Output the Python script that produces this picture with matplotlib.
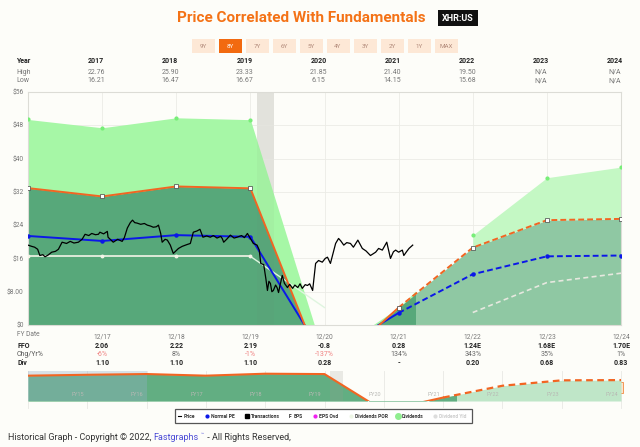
import numpy as np
import matplotlib
matplotlib.use('Agg')
import matplotlib.pyplot as plt
from matplotlib.patches import Rectangle

plt.rcParams['font.family'] = ['Roboto', 'DejaVu Sans']

#########################################################################
# data
#########################################################################
buttons = ['9Y', '8Y', '7Y', '6Y', '5Y', '4Y', '3Y', '2Y', '1Y', 'MAX']
table_years = ['2017', '2018', '2019', '2020', '2021', '2022', '2023', '2024']
table_high = ['22.76', '25.90', '23.33', '21.85', '21.40', '19.50', 'N/A', 'N/A']
table_low = ['16.21', '16.47', '16.67', '6.15', '14.15', '15.68', 'N/A', 'N/A']

fy_dates = ['12/17', '12/18', '12/19', '12/20', '12/21', '12/22', '12/23', '12/24']
ffo_text = ['2.06', '2.22', '2.19', '-0.8', '0.28', '1.24E', '1.68E', '1.70E']
chg_text = ['-6%', '8%', '-1%', '-137%', '134%', '343%', '35%', '1%']
div_text = ['1.10', '1.10', '1.10', '0.28', '-', '0.20', '0.68', '0.83']

# yearly points, t = years after 12/16
fund_t = [0, 1, 2, 3, 4, 5, 6, 7, 8]
eps_line = [32.9, 30.9, 33.3, 32.85, -12.0, 4.2, 18.6, 25.2, 25.5]
normal_pe = [21.4, 20.2, 21.6, 21.2, -7.8, 2.9, 12.2, 16.5, 16.7]
div_top = [49.4, 47.4, 49.8, 49.35, -7.8, 4.2, 21.6, 35.4, 37.95]
yld_hist_t = [0, 1, 2, 3, 4]
yld_hist = [16.5, 16.5, 16.5, 16.5, 4.2]
yld_fc_t = [6, 7, 8]
yld_fc = [3.0, 10.2, 12.45]
t_now = 5.22
recession = (3.09, 3.32)

price_t = [0.00, 0.05, 0.09, 0.13, 0.16, 0.20, 0.23, 0.27, 0.32, 0.37, 0.41, 0.46, 0.52, 0.57, 0.62,
           0.68, 0.73, 0.77, 0.82, 0.86, 0.91, 0.95, 0.97, 1.02, 1.07, 1.08, 1.12, 1.15, 1.21, 1.27,
           1.30, 1.34, 1.38, 1.41, 1.44, 1.47, 1.52, 1.57, 1.61, 1.65, 1.69, 1.73, 1.76, 1.79, 1.81,
           1.85, 1.88, 1.92, 1.96, 2.00, 2.03, 2.08, 2.14, 2.19, 2.21, 2.23, 2.28, 2.32, 2.36, 2.41,
           2.46, 2.50, 2.55, 2.60, 2.62, 2.64, 2.68, 2.73, 2.78, 2.82, 2.88, 2.92, 2.96, 3.00, 3.04,
           3.09, 3.12, 3.14, 3.18, 3.21, 3.23, 3.25, 3.27, 3.29, 3.31, 3.34, 3.36, 3.38, 3.40, 3.43,
           3.46, 3.50, 3.53, 3.57, 3.60, 3.64, 3.67, 3.70, 3.74, 3.77, 3.80, 3.84, 3.86, 3.88, 3.92,
           3.97, 4.01, 4.04, 4.08, 4.12, 4.15, 4.19, 4.22, 4.26, 4.30, 4.35, 4.39, 4.45, 4.51, 4.56,
           4.62, 4.69, 4.73, 4.78, 4.84, 4.89, 4.93, 4.96, 5.00, 5.05, 5.07, 5.11, 5.14, 5.19]
price_v = [19.2, 18.9, 18.7, 18.2, 16.7, 16.9, 16.4, 16.8, 17.5, 17.7, 18.2, 19.9, 19.6, 20.1, 19.7,
           19.9, 20.6, 21.8, 21.5, 22.0, 21.7, 21.8, 22.3, 21.9, 22.5, 21.1, 20.4, 19.9, 20.6, 20.1,
           21.0, 23.3, 24.6, 25.2, 24.6, 24.5, 24.2, 24.4, 24.0, 23.8, 23.5, 23.6, 24.0, 22.0, 19.9,
           20.6, 20.4, 19.2, 17.2, 17.9, 18.4, 18.9, 19.3, 19.6, 21.0, 22.3, 22.6, 23.0, 21.1, 21.4,
           21.1, 21.5, 20.9, 21.3, 20.8, 19.9, 20.6, 21.6, 20.9, 21.1, 21.5, 21.0, 22.0, 20.8, 19.6,
           19.2, 18.0, 14.8, 14.5, 11.0, 8.3, 10.5, 10.0, 8.0, 8.3, 9.6, 9.0, 7.8, 9.5, 11.9,
           10.0, 9.0, 9.8, 8.8, 9.6, 9.0, 9.9, 8.8, 9.7, 9.5, 9.9, 8.3, 11.5, 14.8, 15.5,
           15.1, 16.0, 16.3, 14.8, 17.5, 19.6, 20.8, 20.2, 19.2, 19.8, 19.6, 18.7, 20.4, 18.4, 17.8,
           16.7, 17.5, 18.4, 18.0, 19.9, 16.0, 17.6, 18.0, 17.5, 18.0, 16.7, 17.7, 18.4, 19.2]

# navigator (t = -2 is 12/14)
nav_t = [-2, -1, 0, 1, 2, 3, 4, 5, 6, 7, 8]
nav_eps = [30.9, 32.0, 32.9, 30.9, 33.3, 32.85, -12.0, 4.2, 18.6, 25.2, 25.5]
nav_labels = ['FY15', 'FY16', 'FY17', 'FY18', 'FY19', 'FY20', 'FY21', 'FY22', 'FY23', 'FY24']

legend_items = ['Price', 'Normal PE', 'Transactions', 'EPS', 'EPS Ovd',
                'Dividends POR', 'Dividends', 'Dividend Yld']

#########################################################################
# layout helpers (pixel coordinates)
#########################################################################
W, H = 640, 447
bg = '#fdfdf9'
orange = '#f26522'
blue = '#0b17e8'
X0, X1 = 28, 621


def fx(x):
    return x / W


def fy(y):
    return 1 - y / H


def tx(t):
    return X0 + (X1 - X0) * t / 8.0


fig = plt.figure(figsize=(6.4, 4.47), dpi=100, facecolor=bg)
over = fig.add_axes([0, 0, 1, 1], zorder=0)
over.set_xlim(0, W)
over.set_ylim(H, 0)
over.axis('off')

# title + ticker
fig.text(fx(301), fy(18), 'Price Correlated With Fundamentals', ha='center', va='center',
         color='#f47216', fontsize=11, fontweight='bold')
over.add_patch(Rectangle((438, 10), 40, 16, facecolor='#111111', edgecolor='none'))
fig.text(fx(458), fy(18.5), 'XHR:US', ha='center', va='center', color='white',
         fontsize=6.5, fontweight='bold')

# range buttons
for i, b in enumerate(buttons):
    cx = 203 + 27 * i
    sel = b == '8Y'
    over.add_patch(Rectangle((cx - 11.5, 39), 23, 14,
                             facecolor='#f26a10' if sel else '#fde8d6', edgecolor='none'))
    fig.text(fx(cx), fy(46), b, ha='center', va='center', fontsize=4.5,
             color='white' if sel else '#b08878')

# price table
fig.text(fx(16), fy(61), 'Year', ha='left', va='center', fontsize=5, fontweight='bold', color='#222')
fig.text(fx(16), fy(72.5), 'High', ha='left', va='center', fontsize=5, color='#777')
fig.text(fx(16), fy(81), 'Low', ha='left', va='center', fontsize=5, color='#777')
for k in range(8):
    cx = tx(k + 1) - 6
    fig.text(fx(cx), fy(61), table_years[k], ha='center', va='center', fontsize=5,
             fontweight='bold', color='#222')
    fig.text(fx(cx), fy(72.5), table_high[k], ha='center', va='center', fontsize=5, color='#777')
    fig.text(fx(cx), fy(81), table_low[k], ha='center', va='center', fontsize=5, color='#777')

#########################################################################
# main chart
#########################################################################
ax = fig.add_axes([fx(X0), fy(325), (X1 - X0) / W, (325 - 92) / H], zorder=2)
ax.set_facecolor(bg)
ax.set_xlim(0, 8)
ax.set_ylim(0, 56)

ax.axvspan(recession[0], recession[1], color='#e9e9e3', zorder=0.5, lw=0)

# forecast fills
fc_dark = ax.fill_between(fund_t, 0, eps_line, color='#8fc8a3', lw=0, zorder=1)
fc_light = ax.fill_between(fund_t[6:], eps_line[6:], div_top[6:], color='#c4f8c4', lw=0, zorder=1)
fc_clip = Rectangle((0, 0), 8, 56, transform=ax.transData)
fc_dark.set_clip_path(fc_clip)
# historical fills, clipped to the current date
hist_dark = ax.fill_between(fund_t, 0, eps_line, color='#57a87a', lw=0, zorder=1.2)
hist_light = ax.fill_between(fund_t, eps_line, div_top, color='#a6f7a6', lw=0, zorder=1.2)
hist_dark.set_clip_path(Rectangle((0, 0), t_now, 56, transform=ax.transData))
hist_light.set_clip_path(Rectangle((0, 0), t_now, 56, transform=ax.transData))
ax.axvspan(recession[0], recession[1], color='#707068', alpha=0.05, zorder=1.3, lw=0)

ax.plot(fund_t[:4], div_top[:4], ls='none', marker='o', ms=2, color='#78ee78', zorder=3)
ax.plot(fund_t[6:], div_top[6:], ls='none', marker='o', ms=2, color='#78ee78', zorder=3)

# dividend yield line
ax.plot(yld_hist_t[:4], yld_hist[:4], color='#f4f4e8', lw=1.2, zorder=3)
ax.plot(yld_hist_t[3:], yld_hist[3:], color='#dff5df', lw=1.0, zorder=3)
ax.plot(yld_hist_t[:4], yld_hist[:4], ls='none', marker='o', ms=1.8, color='#f4f4e8', zorder=3)
ax.plot(yld_fc_t, yld_fc, color='#e6e8df', lw=1.2, ls=(0, (3, 2)), zorder=3)

# normal PE
ax.plot(fund_t[:6], normal_pe[:6], color=blue, lw=1.4, zorder=4)
ax.plot(fund_t[5:], normal_pe[5:], color=blue, lw=1.4, ls=(0, (3, 1.6)), zorder=4)
ax.plot(fund_t, normal_pe, ls='none', marker='o', ms=2.2, color=blue, zorder=4)

# FFO line
ax.plot(fund_t[:6], eps_line[:6], color=orange, lw=1.4, zorder=4)
ax.plot(fund_t[5:], eps_line[5:], color=orange, lw=1.4, ls=(0, (3, 1.6)), zorder=4)
ax.plot(fund_t, eps_line, ls='none', marker='s', ms=3, mfc='white', mec='#444', mew=0.5, zorder=5)

# price
ax.plot(price_t, price_v, color='black', lw=0.9, zorder=6)

ax.set_yticks(range(0, 57, 8))
ax.set_yticklabels(['$0', '$8.00', '$16', '$24', '$32', '$40', '$48', '$56'])
ax.set_xticks(range(0, 9))
ax.set_xticklabels([''] + fy_dates)
ax.tick_params(axis='both', length=0, labelsize=4.8, colors='#777')
ax.tick_params(axis='y', pad=3)
ax.tick_params(axis='x', pad=6)
ax.grid(True, color='#ecece6', lw=0.6, zorder=0)
ax.set_axisbelow(True)
for s in ax.spines.values():
    s.set_color('#dcdcd6')
    s.set_linewidth(0.8)

fig.text(fx(17), fy(335), 'FY Date', ha='left', va='center', fontsize=4.8, color='#777')

# fundamentals table under the chart
fig.text(fx(17), fy(346), 'FFO', ha='left', va='center', fontsize=5, fontweight='bold', color='#222')
fig.text(fx(17), fy(354.5), 'Chg/Yr%', ha='left', va='center', fontsize=5, color='#555')
fig.text(fx(17), fy(363), 'Div', ha='left', va='center', fontsize=5, fontweight='bold', color='#222')
for k in range(8):
    cx = tx(k + 1)
    fig.text(fx(cx), fy(346), ffo_text[k], ha='center', va='center', fontsize=5,
             fontweight='bold', color='#222')
    neg = chg_text[k].startswith('-')
    fig.text(fx(cx), fy(354.5), chg_text[k], ha='center', va='center', fontsize=5,
             color='#f08080' if neg else '#666')
    fig.text(fx(cx), fy(363), div_text[k], ha='center', va='center', fontsize=5,
             fontweight='bold', color='#222')

#########################################################################
# navigator
#########################################################################
for k in range(11):
    xk = X0 + (X1 - X0) * k / 10.0
    over.plot([xk, xk], [371, 408], color='#e8e8e4', lw=0.6)

nav = fig.add_axes([fx(X0), fy(401), (X1 - X0) / W, 30 / H], zorder=2)
nav.set_xlim(-2, 8)
nav.set_ylim(0, 36.6)
nav.axis('off')
nd = nav.fill_between(nav_t, 0, nav_eps, color='#bfe6c8', lw=0)
nd.set_clip_path(Rectangle((-2, 0), 10, 36.6, transform=nav.transData))
nh = nav.fill_between(nav_t, 0, nav_eps, color='#62ae82', lw=0)
nh.set_clip_path(Rectangle((-2, 0), t_now + 2, 36.6, transform=nav.transData))
nav.plot(nav_t[:8], nav_eps[:8], color=orange, lw=1.5)
nav.plot(nav_t[7:], nav_eps[7:], color=orange, lw=1.6, ls=(0, (3, 2)))
nav.axvspan(recession[0], recession[1], color='#9a9a92', alpha=0.2, lw=0)
nav.axvspan(-2, 0, color='#95aec8', alpha=0.35, lw=0)
for k, lab in enumerate(nav_labels):
    xk = X0 + (X1 - X0) * (k + 1) / 10.0
    fig.text(fx(xk - 3), fy(395), lab, ha='right', va='center', fontsize=4, color='#b8b8b4')

over.add_patch(Rectangle((145, 382), 5, 11, facecolor='#fde3cc', edgecolor='#f08a40', lw=0.6, zorder=5))
over.add_patch(Rectangle((X1 - 3, 382), 5, 11, facecolor='#fde3cc', edgecolor='#f08a40', lw=0.6, zorder=5))

#########################################################################
# legend
#########################################################################
over.add_patch(Rectangle((175, 409), 297, 14, facecolor='white', edgecolor='#555', lw=0.9))
leg_x = [180, 207, 247, 290, 315, 351, 398, 435]
leg_y = 416
over.plot([178, 181], [leg_y, leg_y], color='black', lw=0.8)
over.plot(leg_x[1], leg_y, 'o', ms=2, color=blue)
over.plot(leg_x[2], leg_y, 's', ms=2.6, color='black')
fig.text(fx(leg_x[3]), fy(leg_y), 'F', ha='center', va='center', fontsize=3.5, fontweight='bold', color='#222')
over.plot(leg_x[4], leg_y, 'o', ms=2, color='#f020f0')
over.plot(leg_x[5], leg_y, 'o', ms=2, color='#eef6e6')
over.plot(leg_x[6], leg_y, 'o', ms=4, color='#90ee90')
over.plot(leg_x[7], leg_y, 'o', ms=2, color='#dddddd')
for k, lab in enumerate(legend_items):
    fig.text(fx(leg_x[k] + 4), fy(leg_y), lab, ha='left', va='center', fontsize=3.6,
             fontweight='bold', color='#cccccc' if lab == 'Dividend Yld' else '#333')

#########################################################################
# footer
#########################################################################
r = fig.canvas.get_renderer()
t1 = fig.text(fx(8), fy(437), 'Historical Graph - Copyright \u00a9 2022, ', ha='left', va='center',
              fontsize=6.5, color='#333')
x_end = t1.get_window_extent(r).x1
t2 = fig.text(x_end / W, fy(437), 'Fastgraphs', ha='left', va='center', fontsize=6.5, color='#4b4bd6')
x_end = t2.get_window_extent(r).x1
t3 = fig.text(x_end / W + 0.002, fy(434), '\u2122', ha='left', va='center', fontsize=3.5, color='#4b4bd6')
x_end = t3.get_window_extent(r).x1
fig.text(x_end / W + 0.002, fy(437), ' - All Rights Reserved,', ha='left', va='center',
         fontsize=6.5, color='#333')

fig.savefig('out.png', dpi=100, facecolor=bg)
